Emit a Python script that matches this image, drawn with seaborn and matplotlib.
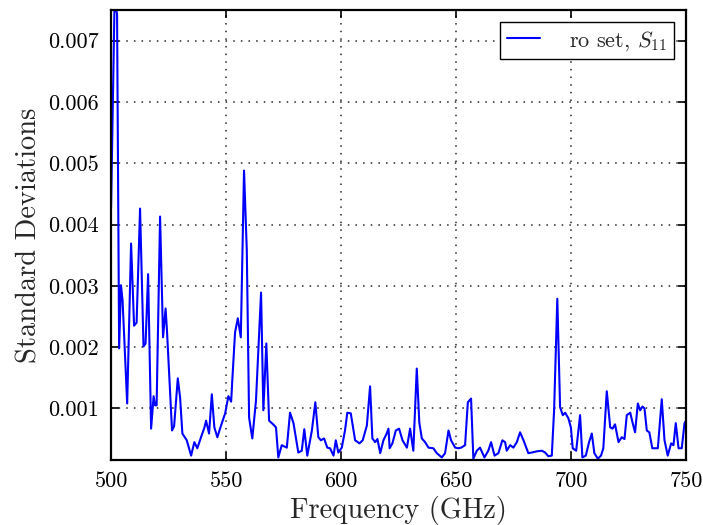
import matplotlib
matplotlib.use("Agg")
import matplotlib.pyplot as plt
import seaborn as sns
import pandas as pd

freq_ghz = [500.0, 501.5, 502.6, 503.5, 504.3, 505.0, 507.0, 508.7, 510.0, 511.1,
            512.6, 514.1, 515.0, 516.1, 517.4, 518.5, 519.1, 519.8, 521.3, 522.6,
            523.7, 524.3, 526.5, 527.4, 529.0, 530.0, 531.0, 532.9, 534.8, 536.2,
            537.5, 539.1, 540.6, 541.3, 542.6, 543.8, 544.9, 546.2, 547.8, 549.6,
            551.0, 552.2, 552.7, 553.9, 555.1, 556.4, 557.8, 559.0, 560.0, 561.4,
            563.0, 565.2, 566.2, 567.5, 568.7, 569.9, 571.0, 571.7, 572.7, 574.2,
            576.4, 577.8, 579.3, 581.4, 582.9, 584.0, 585.3, 587.3, 588.8, 590.1,
            591.2, 592.6, 594.0, 595.2, 596.7, 597.7, 598.8, 600.3, 601.7, 602.7,
            604.2, 606.1, 608.0, 609.4, 611.2, 612.6, 613.6, 614.8, 615.8, 617.0,
            618.4, 619.7, 620.6, 621.1, 622.3, 623.8, 625.2, 626.7, 628.6, 630.0,
            631.4, 632.9, 634.0, 635.1, 636.5, 638.0, 640.1, 641.6, 643.8, 645.2,
            646.7, 647.8, 649.6, 651.0, 652.2, 653.9, 655.1, 656.5, 657.5, 659.0,
            660.4, 662.3, 664.0, 665.2, 666.7, 668.4, 670.1, 671.3, 672.0, 673.5,
            674.9, 676.4, 677.8, 679.3, 681.4, 682.9, 685.1, 687.3, 688.7, 690.1,
            691.6, 692.6, 694.0, 695.2, 696.4, 697.4, 698.8, 699.9, 700.7, 702.2,
            703.9, 704.9, 706.4, 707.8, 709.0, 710.1, 711.6, 713.0, 714.0, 715.5,
            717.0, 718.0, 719.1, 720.6, 722.0, 723.2, 724.2, 725.7, 726.7, 727.8,
            729.0, 730.0, 731.0, 731.9, 732.9, 734.0, 735.3, 737.7, 739.4, 740.6,
            742.0, 743.5, 744.5, 745.5, 746.7, 748.1, 749.3, 750.0]

std_dev = [0.00428, 0.00760, 0.00744, 0.00198, 0.00301, 0.00276, 0.00108, 0.00369, 0.00235, 0.00240,
           0.00426, 0.00201, 0.00206, 0.00319, 0.00067, 0.00120, 0.00105, 0.00105, 0.00413, 0.00216,
           0.00263, 0.00227, 0.00064, 0.00071, 0.00149, 0.00118, 0.00059, 0.00048, 0.00023, 0.00045,
           0.00035, 0.00053, 0.00069, 0.00080, 0.00059, 0.00123, 0.00069, 0.00053, 0.00072, 0.00092,
           0.00120, 0.00111, 0.00146, 0.00224, 0.00247, 0.00216, 0.00488, 0.00358, 0.00085, 0.00051,
           0.00113, 0.00289, 0.00097, 0.00206, 0.00080, 0.00076, 0.00072, 0.00069, 0.00020, 0.00040,
           0.00036, 0.00093, 0.00076, 0.00028, 0.00031, 0.00066, 0.00023, 0.00064, 0.00110, 0.00053,
           0.00048, 0.00051, 0.00036, 0.00035, 0.00023, 0.00048, 0.00028, 0.00036, 0.00064, 0.00093,
           0.00092, 0.00048, 0.00043, 0.00048, 0.00072, 0.00136, 0.00051, 0.00045, 0.00050, 0.00027,
           0.00048, 0.00058, 0.00067, 0.00035, 0.00043, 0.00064, 0.00067, 0.00048, 0.00036, 0.00067,
           0.00031, 0.00165, 0.00077, 0.00051, 0.00045, 0.00036, 0.00035, 0.00027, 0.00020, 0.00027,
           0.00064, 0.00048, 0.00036, 0.00035, 0.00036, 0.00040, 0.00110, 0.00116, 0.00018, 0.00031,
           0.00036, 0.00020, 0.00031, 0.00045, 0.00023, 0.00027, 0.00048, 0.00045, 0.00031, 0.00040,
           0.00036, 0.00045, 0.00061, 0.00048, 0.00027, 0.00028, 0.00030, 0.00031, 0.00028, 0.00022,
           0.00023, 0.00097, 0.00279, 0.00102, 0.00089, 0.00093, 0.00084, 0.00069, 0.00035, 0.00031,
           0.00089, 0.00020, 0.00023, 0.00045, 0.00059, 0.00027, 0.00018, 0.00023, 0.00035, 0.00128,
           0.00069, 0.00067, 0.00074, 0.00045, 0.00053, 0.00050, 0.00089, 0.00093, 0.00077, 0.00061,
           0.00108, 0.00097, 0.00103, 0.00100, 0.00064, 0.00061, 0.00035, 0.00035, 0.00115, 0.00048,
           0.00023, 0.00043, 0.00040, 0.00076, 0.00035, 0.00035, 0.00076, 0.00080]

x_ticks = [500, 550, 600, 650, 700, 750]
y_ticks = [0.001, 0.002, 0.003, 0.004, 0.005, 0.006, 0.007]
y_tick_labels = ["0.001", "0.002", "0.003", "0.004", "0.005", "0.006", "0.007"]
series_label = r"ro set, $S_{11}$"

sns.set_style("ticks")
plt.rcParams["font.family"] = ["cmr10", "DejaVu Serif"]
plt.rcParams["mathtext.fontset"] = "cm"
plt.rcParams["axes.formatter.use_mathtext"] = True

df = pd.DataFrame({"Frequency": freq_ghz, "Std": std_dev})

fig = plt.figure(figsize=(7.03, 5.25), dpi=100)
ax = fig.add_axes([0.158, 0.124, 0.818, 0.857])

sns.lineplot(data=df, x="Frequency", y="Std", sort=False, estimator=None,
             color="#0000ff", linewidth=1.5, label=series_label, ax=ax)

ax.set_xlim(500, 750)
ax.set_ylim(0.00016, 0.0075)
ax.set_xticks(x_ticks)
ax.set_xticklabels([str(t) for t in x_ticks])
ax.set_yticks(y_ticks)
ax.set_yticklabels(y_tick_labels)

ax.grid(True, color="black", linestyle=(0, (1, 4)), linewidth=1.1, alpha=0.85)
ax.tick_params(direction="in", length=6, width=1.2, top=True, right=True,
               labelsize=16, colors="black")
ax.tick_params(axis="y", pad=9)
ax.tick_params(axis="x", pad=8)
for s in ax.spines.values():
    s.set_linewidth(1.6)
    s.set_color("black")
    s.set_visible(True)

ax.set_xlabel("Frequency (GHz)", fontsize=20.5, labelpad=4)
ax.set_ylabel("Standard Deviations", fontsize=20.5, labelpad=4)

leg = ax.legend(loc="upper right", fontsize=16, fancybox=False, frameon=True,
                framealpha=1, edgecolor="black", handlelength=1.5,
                borderaxespad=0.55, borderpad=0.3, handletextpad=1.3)
leg.get_frame().set_linewidth(1.0)

fig.savefig("out.png", dpi=100)
